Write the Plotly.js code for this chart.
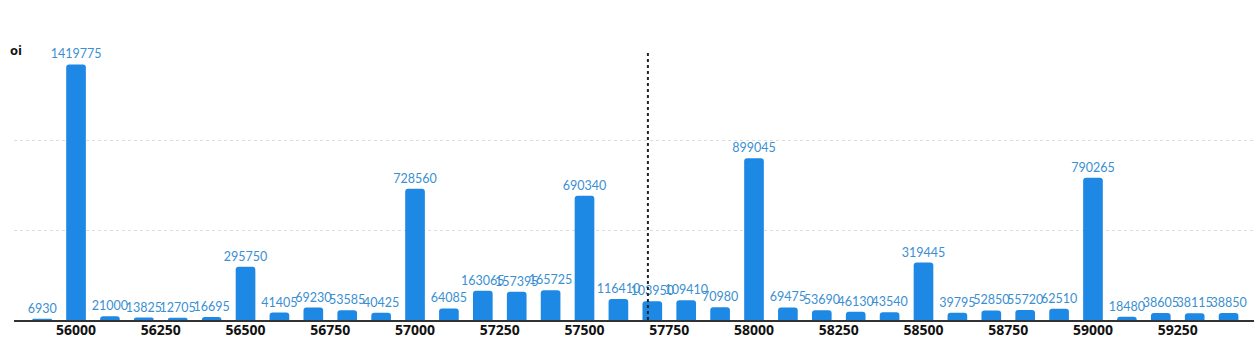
<!DOCTYPE html>
<html><head><meta charset="utf-8">
<script src="https://cdn.plot.ly/plotly-3.0.1.min.js"></script>
<style>html,body{margin:0;padding:0;background:#fff}#chart{width:1254px;height:340px}</style>
</head><body><div id="chart"></div>
<script>
const strikes = [55900,56000,56100,56200,56300,56400,56500,56600,56700,56800,56900,57000,57100,57200,57300,57400,57500,57600,57700,57800,57900,58000,58100,58200,58300,58400,58500,58600,58700,58800,58900,59000,59100,59200,59300,59400];
const oi = [6930,1419775,21000,13825,12705,16695,295750,41405,69230,53585,40425,728560,64085,163065,157395,165725,690340,116410,103950,109410,70980,899045,69475,53690,46130,43540,319445,39795,52850,55720,62510,790265,18480,38605,38115,38850];
const spot = 57687;
const tickVals = [56000,56250,56500,56750,57000,57250,57500,57750,58000,58250,58500,58750,59000,59250];

Plotly.newPlot('chart', [{
  type: 'bar', x: strikes, y: oi,
  text: oi.map(String), textposition: 'outside', cliponaxis: false, constraintext: 'none',
  textfont: {family: 'Lato, "Open Sans", sans-serif', size: 12.5, color: '#3a8fd2'},
  marker: {color: '#1e88e5', cornerradius: 3},
  width: 58, hoverinfo: 'x+y'
}], {
  width: 1254, height: 340,
  margin: {l: 14, r: 0, t: 50, b: 20},
  paper_bgcolor: '#fff', plot_bgcolor: '#fff',
  showlegend: false,
  xaxis: {range: [55817, 59475], tickvals: tickVals, ticktext: tickVals.map(String),
    tickfont: {family: '"Open Sans", sans-serif', size: 14, color: '#111', weight: 'bold'},
    showgrid: false, showline: true, linecolor: '#333', linewidth: 2, ticks: '', zeroline: false,
    ticklabelstandoff: -4},
  yaxis: {range: [0, 1500000], showticklabels: false, tickvals: [500000, 1000000],
    showgrid: true, gridcolor: '#ddd', griddash: 'dot', gridwidth: 1, zeroline: false, showline: false},
  shapes: [{type: 'line', xref: 'x', yref: 'paper', x0: spot, x1: spot, y0: 0, y1: 1,
    line: {color: '#222', width: 2, dash: 'dot'}}],
  annotations: [{text: '<b>oi</b>', xref: 'paper', yref: 'paper', x: 0, y: 1, xanchor: 'left', yanchor: 'top',
    xshift: -6, yshift: 11, showarrow: false, font: {family: '"Open Sans", sans-serif', size: 13, color: '#111'}}]
}, {displayModeBar: false, staticPlot: true});
</script></body></html>
